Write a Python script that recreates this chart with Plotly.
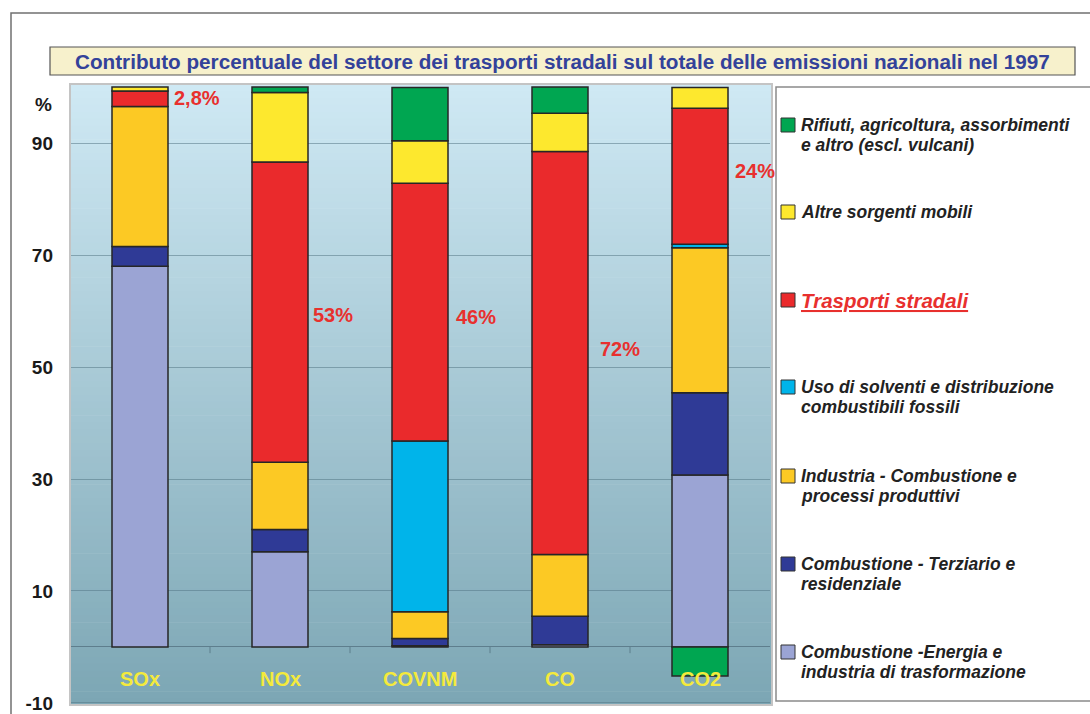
import plotly.graph_objects as go

# ---------------- data ----------------
categories = ["SOx", "NOx", "COVNM", "CO", "CO2"]
energia = [68.0, 17.0, 0.2, 0.4, 30.7]
terziario = [3.5, 4.0, 1.3, 5.1, 14.7]
industria = [25.0, 12.0, 4.8, 11.0, 25.9]
solventi = [None, None, 30.5, None, 0.6]
trasporti = [2.8, 53.6, 46.0, 72.0, 24.3]
altre = [0.7, 12.4, 7.6, 6.8, 3.7]
rifiuti = [None, 1.0, 9.5, 4.7, -5.2]

series_names = [
    "Combustione -Energia e<br>industria di trasformazione",
    "Combustione - Terziario e<br>residenziale",
    "Industria - Combustione e<br>processi produttivi",
    "Uso di solventi e distribuzione<br>combustibili fossili",
    "Trasporti stradali",
    "Altre sorgenti mobili",
    "Rifiuti, agricoltura, assorbimenti<br>e altro (escl. vulcani)",
]
series_values = [energia, terziario, industria, solventi, trasporti, altre, rifiuti]

pct_labels = ["2,8%", "53%", "46%", "72%", "24%"]
y_ticks = [-10, 10, 30, 50, 70, 90]
title_text = "Contributo percentuale del settore dei trasporti stradali sul totale delle emissioni nazionali nel 1997"

# ---------------- styles ----------------
colors = ["#9ba4d4", "#2f3a96", "#fcc924", "#00b4ea", "#ea2a2c", "#fde82e", "#00a651"]
pct_pos = [(0.41, 98.0), (1.38, 59.3), (2.40, 58.9), (3.43, 53.2), (4.39, 85.0)]
FONT = "Liberation Sans, Arial, sans-serif"

# design coordinates (pixels of the target picture)
W, H = 1090, 714
L, R, T, B = 70, 320, 83, 10
PW, PH = W - L - R, H - T - B
# the captured page is squeezed vertically; compensate
KY = 724.0 / 714.0


def px(x):
    return (x - L) / PW


def py(y):
    return (H - B - y) / PH


fig = go.Figure()
for name, vals, col in zip(series_names, series_values, colors):
    fig.add_trace(go.Bar(
        x=categories, y=vals, name=name, width=0.4,
        marker=dict(color=col, line=dict(color="#262626", width=1.5)),
        showlegend=False,
    ))

shapes = []
# gradient background of plot area
N = 90
top_c = (207, 233, 244)
bot_c = (124, 166, 180)
for i in range(N):
    t = (i + 0.5) / N
    c = tuple(int(round(top_c[k] + (bot_c[k] - top_c[k]) * t)) for k in range(3))
    shapes.append(dict(type="rect", xref="paper", yref="paper",
                       x0=0, x1=px(772), y0=max(0, 1 - (i + 1) / N - 0.001), y1=1 - i / N,
                       fillcolor="rgb(%d,%d,%d)" % c, line=dict(width=0), layer="below"))
# plot border
shapes.append(dict(type="rect", xref="paper", yref="paper", x0=0, x1=px(772), y0=0, y1=1,
                   line=dict(color="#c4c4c4", width=2), layer="above"))
# small ticks on the zero line between categories
for xb in [0.5, 1.5, 2.5, 3.5]:
    shapes.append(dict(type="line", xref="x", yref="y", x0=xb, x1=xb, y0=0, y1=-1.1,
                       line=dict(color="#5d7f8c", width=1)))
# outer frame
shapes.append(dict(type="rect", xref="paper", yref="paper", x0=px(11), x1=px(1100),
                   y0=py(730), y1=py(12), line=dict(color="#707070", width=1.5)))
# title box
shapes.append(dict(type="rect", xref="paper", yref="paper", x0=px(50), x1=px(1075),
                   y0=py(74), y1=py(46), fillcolor="#f7f1cc", line=dict(color="#555555", width=1.2)))
# legend panel
shapes.append(dict(type="rect", xref="paper", yref="paper", x0=px(776), x1=px(1100),
                   y0=py(700), y1=py(86), fillcolor="white", line=dict(color="#8a8a8a", width=1.5)))

annotations = []
annotations.append(dict(xref="paper", yref="paper", x=px(562), y=py(60), text="<b>" + title_text + "</b>",
                        showarrow=False, xanchor="center", yanchor="middle",
                        font=dict(family=FONT, size=20.7, color="#33429a")))
# percent sign on y axis
annotations.append(dict(xref="paper", yref="paper", x=px(54), y=py(103), text="<b>%</b>",
                        showarrow=False, xanchor="right", yanchor="middle",
                        font=dict(family=FONT, size=19, color="#1a1a1a")))
# category labels (yellow)
for c in categories:
    annotations.append(dict(xref="x", yref="y", x=c, y=-5.7, text="<b>" + c + "</b>",
                            showarrow=False, xanchor="center", yanchor="middle",
                            font=dict(family=FONT, size=20, color="#f4ea3c")))
# percent labels
for lab, (xx, yy) in zip(pct_labels, pct_pos):
    annotations.append(dict(xref="x", yref="y", x=xx, y=yy, text="<b>" + lab + "</b>",
                            showarrow=False, xanchor="center", yanchor="middle",
                            font=dict(family=FONT, size=20, color="#e8302e")))

# manual legend (top: last series)
legend_y = [124, 211, 299, 386, 475, 563, 651]
for idx, ly in enumerate(legend_y):
    s = len(series_names) - 1 - idx
    name = series_names[s]
    shapes.append(dict(type="rect", xref="paper", yref="paper", x0=px(781), x1=px(795),
                       y0=py(ly + 7), y1=py(ly - 7), fillcolor=colors[s],
                       line=dict(color="#333333", width=1)))
    for k, line in enumerate(name.split("<br>")):
        if name == "Trasporti stradali":
            txt = "<b><i><u>" + line + "</u></i></b>"
            col = "#e8302e"
            size = 20.5
        else:
            txt = "<b><i>" + line + "</i></b>"
            col = "#222222"
            size = 17.5
        annotations.append(dict(xref="paper", yref="paper", x=px(799), y=py(ly + 20 * k), text=txt,
                                showarrow=False, xanchor="left", yanchor="middle", align="left",
                                font=dict(family=FONT, size=size, color=col)))

fig.update_layout(
    width=W, height=round(H * KY), autosize=False,
    margin=dict(l=L, r=R, t=T * KY, b=B * KY, pad=0),
    barmode="relative",
    paper_bgcolor="white",
    plot_bgcolor="rgba(0,0,0,0)",
    shapes=shapes,
    annotations=annotations,
    xaxis=dict(range=[-0.5, 4.5], showticklabels=False, showgrid=False, zeroline=False,
               showline=False, ticks="", fixedrange=True),
    yaxis=dict(range=[-10.36, 100.54], tickvals=y_ticks, ticktext=[str(v) for v in y_ticks],
               showgrid=True, gridcolor="rgba(85,120,135,0.55)", gridwidth=1,
               zeroline=True, zerolinecolor="rgba(85,115,130,0.8)", zerolinewidth=1,
               showline=False, ticks="", ticklabelstandoff=16, fixedrange=True,
               tickfont=dict(family=FONT, size=19, color="#1a1a1a", weight="bold")),
    font=dict(family=FONT),
)

fig.write_html(
    "out.html",
    config={"responsive": False, "displayModeBar": False, "staticPlot": True},
    post_script="document.body.style.margin='0';document.body.style.padding='0';"
                "document.documentElement.style.overflow='hidden';",
)
